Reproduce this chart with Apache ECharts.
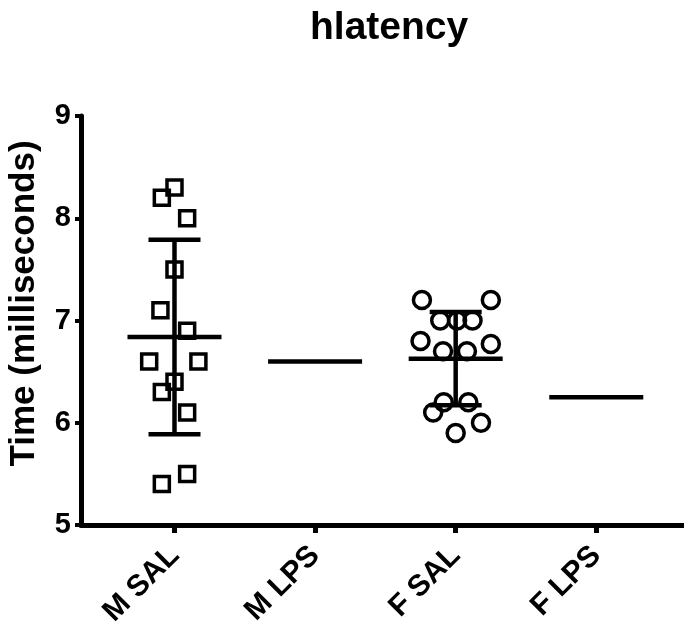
<!DOCTYPE html>
<html>
<head>
<meta charset="utf-8">
<script src="https://cdn.jsdelivr.net/npm/echarts@6/dist/echarts.min.js"></script>
<style>
  html, body { margin: 0; padding: 0; background: #fff; }
  #chart { width: 684px; height: 625px; }
</style>
</head>
<body>
<div id="chart"></div>
<script>
// groups along the x axis
const categories = ['M SAL', 'M LPS', 'F SAL', 'F LPS'];

// individual values (ms) and their horizontal spread within the column
const mSal = [8.3, 8.2, 8.0, 7.5, 7.1, 6.9, 6.6, 6.6, 6.4, 6.3, 6.1, 5.5, 5.4];
const mSalJitter = [0, -0.09, 0.09, 0, -0.1, 0.09, -0.18, 0.17, 0, -0.09, 0.09, 0.09, -0.09];
const fSal = [7.2, 7.2, 7.0, 7.0, 7.0, 6.8, 6.77, 6.7, 6.7, 6.2, 6.2, 6.1, 6.0, 5.9];
const fSalJitter = [-0.24, 0.25, -0.11, 0.01, 0.12, -0.25, 0.25, -0.09, 0.08, -0.085, 0.09, -0.16, 0.18, 0];
// LPS groups only show a mean line
const mLps = [6.6];
const fLps = [6.25];

const yTicks = [5, 6, 7, 8, 9];

function mean(a) {
  return a.reduce((s, v) => s + v, 0) / a.length;
}
function sd(a) {
  if (a.length < 2) return 0;
  const m = mean(a);
  return Math.sqrt(a.reduce((s, v) => s + (v - m) * (v - m), 0) / (a.length - 1));
}

const groups = [mSal, mLps, fSal, fLps];
const summary = groups.map((g, i) => [i, mean(g), sd(g)]);

const font = 'Liberation Sans, Arial, Helvetica, sans-serif';
const chart = echarts.init(document.getElementById('chart'));

chart.setOption({
  animation: false,
  title: {
    text: 'hlatency',
    left: 305,
    top: 4,
    textStyle: { fontFamily: font, fontWeight: 'bold', fontSize: 39, color: '#000' }
  },
  grid: { left: 81, right: 0, top: 116, bottom: 100, containLabel: false, outerBoundsMode: 'none' },
  xAxis: {
    type: 'value',
    min: -0.665,
    max: 3.624,
    splitLine: { show: false },
    axisLine: { show: true, onZero: false, lineStyle: { color: '#000', width: 5 } },
    axisTick: { show: true, customValues: [0, 1, 2, 3], length: 8, lineStyle: { color: '#000', width: 5 } },
    axisLabel: {
      customValues: [0, 1, 2, 3],
      formatter: v => categories[Math.round(v)],
      rotate: 45,
      margin: 26,
      fontFamily: font,
      fontWeight: 'bold',
      fontSize: 30,
      color: '#000'
    }
  },
  yAxis: {
    type: 'value',
    min: yTicks[0],
    max: yTicks[yTicks.length - 1],
    interval: 1,
    name: 'Time (milliseconds)',
    nameLocation: 'middle',
    nameGap: 39,
    nameTextStyle: { fontFamily: font, fontWeight: 'bold', fontSize: 35, color: '#000', padding: [0, 0, 0, 34] },
    splitLine: { show: false },
    axisLine: { show: true, onZero: false, lineStyle: { color: '#000', width: 5 } },
    axisTick: { show: true, length: 6, lineStyle: { color: '#000', width: 4 } },
    axisLabel: { margin: 10, fontFamily: font, fontWeight: 'bold', fontSize: 29, color: '#000' }
  },
  series: [
    {
      type: 'scatter',
      symbol: 'rect',
      symbolSize: 15,
      itemStyle: { color: 'transparent', borderColor: '#000', borderWidth: 3.5, opacity: 1 },
      data: mSal.map((v, i) => [0 + mSalJitter[i], v])
    },
    {
      type: 'scatter',
      symbol: 'circle',
      symbolSize: 17,
      itemStyle: { color: 'transparent', borderColor: '#000', borderWidth: 3.5, opacity: 1 },
      data: fSal.map((v, i) => [2 + fSalJitter[i], v])
    },
    {
      type: 'custom',
      data: summary,
      renderItem: function (params, api) {
        const x = api.value(0), m = api.value(1), s = api.value(2);
        const c = api.coord([x, m]);
        const style = { stroke: '#000', lineWidth: 4.5 };
        const children = [
          { type: 'line', shape: { x1: c[0] - 47, y1: c[1], x2: c[0] + 47, y2: c[1] }, style: style }
        ];
        if (s > 0) {
          const top = api.coord([x, m + s]);
          const bot = api.coord([x, m - s]);
          children.push(
            { type: 'line', shape: { x1: c[0], y1: top[1], x2: c[0], y2: bot[1] }, style: style },
            { type: 'line', shape: { x1: c[0] - 26, y1: top[1], x2: c[0] + 26, y2: top[1] }, style: style },
            { type: 'line', shape: { x1: c[0] - 26, y1: bot[1], x2: c[0] + 26, y2: bot[1] }, style: style }
          );
        }
        return { type: 'group', children: children };
      }
    }
  ]
});
</script>
</body>
</html>
